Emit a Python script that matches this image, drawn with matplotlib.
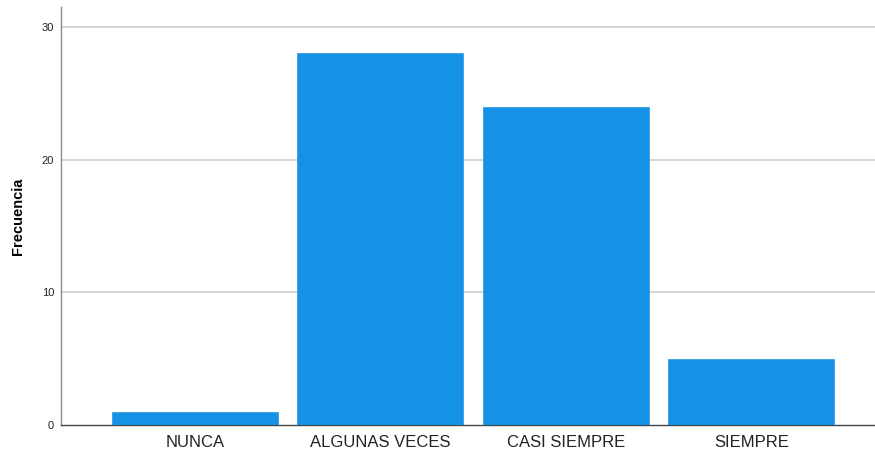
#!/usr/bin/env python3

import matplotlib
matplotlib.use('Agg')
import matplotlib.pyplot as plt

categories = ['NUNCA', 'ALGUNAS VECES', 'CASI SIEMPRE', 'SIEMPRE']
frequencies = [1, 28, 24, 5]
y_ticks = [0, 10, 20, 30]

plt.rcParams['font.family'] = ['Liberation Sans', 'DejaVu Sans']

fig = plt.figure(figsize=(8.75, 4.51), dpi=100)
ax = fig.add_axes([61 / 875, 26 / 451, 814 / 875, 418 / 451])

positions = list(range(len(categories)))
ax.bar(positions, frequencies, width=0.895, color='#1591e6',
       edgecolor='#3a9fe8', linewidth=0.6, zorder=3)

ax.set_xlim(-0.722, 3.666)
ax.set_ylim(0, 31.5)
ax.set_xticks(positions)
ax.set_xticklabels(categories, fontsize=12, color='#222222')
ax.set_yticks(y_ticks)
ax.set_yticklabels([str(t) for t in y_ticks], fontsize=8, color='#222222')
ax.tick_params(axis='both', length=0)
ax.tick_params(axis='x', pad=7)
ax.tick_params(axis='y', pad=5)

# grid lines only above zero
for t in y_ticks[1:]:
    ax.axhline(t, color='#d4d4d4', linewidth=1.4, zorder=1)

for side in ['top', 'right']:
    ax.spines[side].set_visible(False)
ax.spines['left'].set_color('#8a8a8a')
ax.spines['left'].set_linewidth(1.0)
ax.spines['bottom'].set_color('#444444')
ax.spines['bottom'].set_linewidth(1.0)

ax.set_ylabel('Frecuencia', fontsize=10.5, fontweight='bold')
ax.yaxis.set_label_coords(-0.044, 0.5)

fig.savefig('out.png', dpi=100)
